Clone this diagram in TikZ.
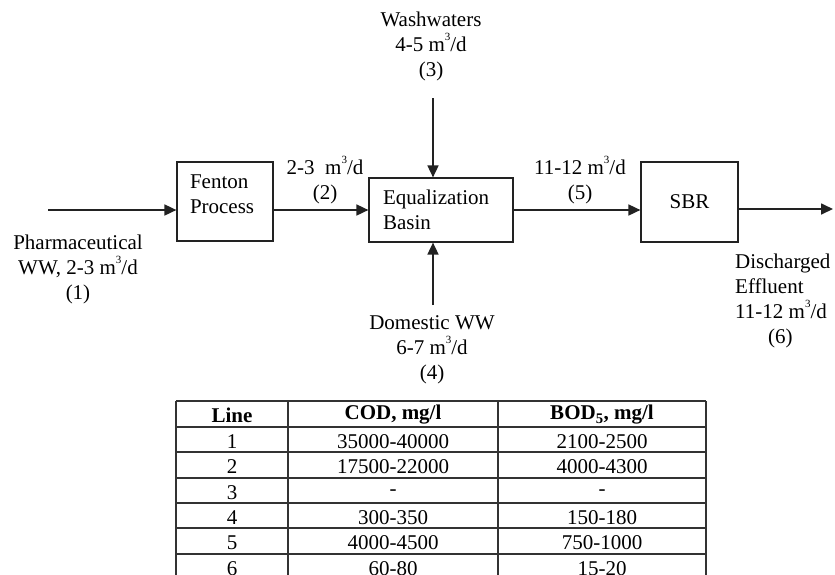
\documentclass[tikz,border=0pt]{standalone}
\usepackage{fontspec}
\setmainfont{Liberation Serif}
\usetikzlibrary{arrows.meta}
\definecolor{LineDark}{HTML}{222222}
\definecolor{GridGray}{HTML}{333333}
\newcommand{\cubed}{m\raisebox{0.52em}{\fontsize{11}{11}\selectfont 3}/d}
\tikzset{
  flowtext/.style={font=\fontsize{21}{25}\selectfont, inner sep=0pt},
  unitbox/.style={draw=LineDark, line width=1.2pt, inner sep=0pt, flowtext},
  flow/.style={-{Triangle[length=12pt,width=11pt]}, line width=1.7pt, color=LineDark},
  cell/.style={flowtext, font=\fontsize{21}{25}\selectfont}
}
\begin{document}
\begin{tikzpicture}[x=1pt,y=-1pt]
		\path[use as bounding box, clip] (0,0) rectangle (835,574);
		% Process units
		\node[unitbox, minimum width=96pt, minimum height=79pt, align=left, text width=70pt, text depth=39pt] (fenton) at (225,201.5) {Fenton\\Process};
		\node[unitbox, minimum width=144pt, minimum height=64pt, align=left, text width=116pt] (eq) at (441,210) {Equalization\\Basin};
		\node[unitbox, minimum width=97pt, minimum height=80pt] (sbr) at (689.5,202) {SBR};
		
		% Free ends of the streams
		\coordinate (pin) at (48,210);
		\coordinate (pout) at (833,209);
		\coordinate (wtop) at (433,98);
		\coordinate (dbot) at (433,305);
		
		\draw[flow] (pin) -- (pin -| fenton.west);
		\draw[flow] (fenton.east |- eq) -- (eq);
		\draw[flow] (eq) -- (eq -| sbr.west);
		\draw[flow] (sbr.east |- pout) -- (pout);
		\draw[flow] (wtop) -- (wtop |- eq.north);
		\draw[flow] (dbot) -- (dbot |- eq.south);
		
		% Stream labels
		\node[flowtext, align=center] (pharmlbl) at (78,269) {Pharmaceutical\\WW, 2-3 \cubed\\(1)};
		\node[flowtext, align=center] (line2lbl) at (325,180) {2-3\enspace \cubed\\(2)};
		\node[flowtext, align=center] (washlbl) at (431,46) {Washwaters\\4-5 \cubed\\(3)};
		\node[flowtext, align=center] (domlbl) at (432,350) {Domestic WW\\6-7 \cubed\\(4)};
		\node[flowtext, align=center] (line5lbl) at (580,180) {11-12 \cubed\\(5)};
		\node[flowtext, align=left, anchor=west] (outlbl) at (735,301) {Discharged\\Effluent\\11-12 \cubed\\\hspace*{33pt}(6)};
		
		% Table of line qualities
		\foreach \y in {401,427,452,478,503,528,554,579}
			\draw[GridGray, line width=1.2pt] (176,\y) -- (706,\y);
		\foreach \x in {176,288,498,706}
			\draw[GridGray, line width=1.2pt] (\x,401) -- (\x,579);
		\node[cell, font=\fontsize{21}{25}\selectfont\bfseries] (hline) at (232,415) {Line};
		\node[cell, font=\fontsize{21}{25}\selectfont\bfseries] (hcod) at (393,415) {COD, mg/l};
		\node[cell, font=\fontsize{21}{25}\selectfont\bfseries] (hbod) at (602,415) {BOD\textsubscript{5}, mg/l};
		\foreach \n/\cod/\bod [count=\i] in {1/35000-40000/2100-2500, 2/17500-22000/4000-4300, 3/-/-, 4/300-350/150-180, 5/4000-4500/750-1000, 6/60-80/15-20} {
			\node[cell] (line\i) at (232,416+25.4*\i) {\n};
			\node[cell] (cod\i) at (393,416+25.4*\i) {\cod};
			\node[cell] (bod\i) at (602,416+25.4*\i) {\bod};
		}
	\end{tikzpicture}
\end{document}
